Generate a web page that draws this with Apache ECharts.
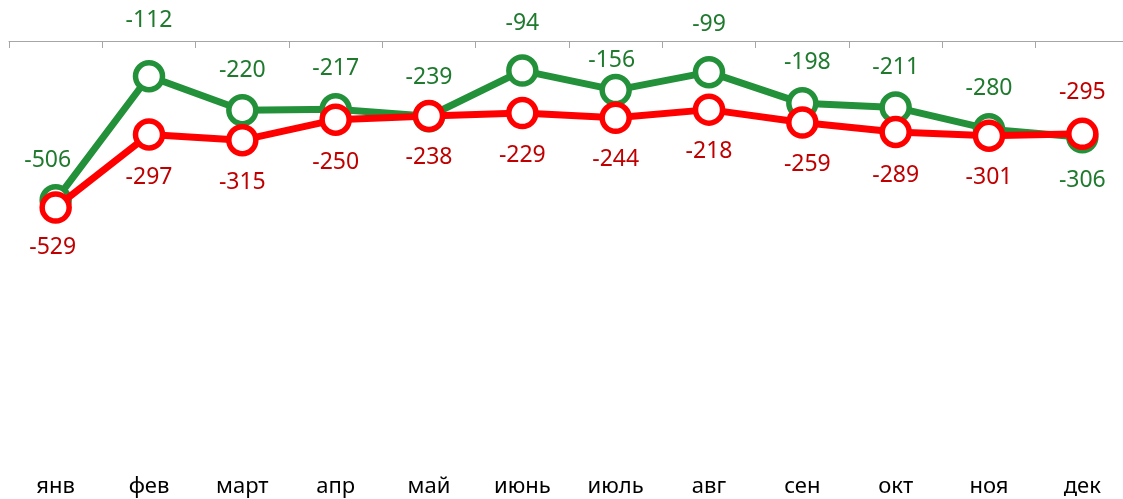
<!DOCTYPE html>
<html>
<head>
<meta charset="utf-8">
<script src="https://cdn.jsdelivr.net/npm/echarts@6/dist/echarts.min.js"></script>
<style>
html,body{margin:0;padding:0;background:#fff;}
#chart{width:1123px;height:499px;}
</style>
</head>
<body>
<div id="chart"></div>
<script>
const categories = ['янв','фев','март','апр','май','июнь','июль','авг','сен','окт','ноя','дек'];
const greenValues = [-506,-112,-220,-217,-239,-94,-156,-99,-198,-211,-280,-306];
const redValues = [-529,-297,-315,-250,-238,-229,-244,-218,-259,-289,-301,-295];

// label offsets (style, not data)
const greenLabelOffsets = [[-8,-40],[0,-56],[0,-40],[0,-41],[0,-39],[0,-47],[-4,-30],[0,-48],[5,-41],[0,-40],[0,-41],[0,43]];
const redLabelOffsets = [[-3,40],[0,43],[0,42],[0,43],[0,42],[0,42],[0,42],[0,42],[5,42],[0,43],[0,42],[0,-41]];

const GREEN = '#23903a';
const GREEN_TEXT = '#1f7a2e';
const RED = '#ff0000';
const RED_TEXT = '#c00000';
const FONT = 'Noto Sans';

function build(values, offsets) {
  return values.map((v, i) => ({
    value: v,
    label: { offset: offsets[i] }
  }));
}

const chart = echarts.init(document.getElementById('chart'), null, {renderer: 'canvas'});
function makeSeries(name, values, offsets, color, textColor, z) {
  return {
    name: name,
    type: 'line',
    xAxisIndex: 0,
    data: build(values, offsets),
    z: z,
    symbol: 'circle',
    symbolSize: 27,
    lineStyle: { color: color, width: 7 },
    itemStyle: { color: '#ffffff', borderColor: color, borderWidth: 5.5 },
    label: {
      show: true,
      position: 'inside',
      color: textColor,
      fontFamily: FONT,
      fontSize: 23
    },
    animation: false
  };
}
chart.setOption({
  backgroundColor: '#ffffff',
  animation: false,
  grid: { left: 9, width: 1120, top: 41, height: 425, containLabel: false, outerBoundsMode: 'none' },
  xAxis: [
    {
      type: 'category',
      data: categories,
      position: 'bottom',
      axisLine: { show: false },
      axisTick: { show: false },
      axisLabel: { color: '#000000', fontFamily: FONT, fontSize: 22, margin: 10 }
    },
    {
      type: 'category',
      data: categories,
      position: 'top',
      axisLine: { show: true, lineStyle: { color: '#a6a6a6', width: 1 } },
      axisTick: { show: true, inside: true, length: 7, lineStyle: { color: '#a6a6a6' } },
      axisLabel: { show: false }
    }
  ],
  yAxis: {
    type: 'value',
    min: -1350,
    max: 0,
    show: false,
    splitLine: { show: false }
  },
  series: [
    makeSeries('green', greenValues, greenLabelOffsets, GREEN, GREEN_TEXT, 2),
    makeSeries('red', redValues, redLabelOffsets, RED, RED_TEXT, 3)
  ]
});
</script>
</body>
</html>
